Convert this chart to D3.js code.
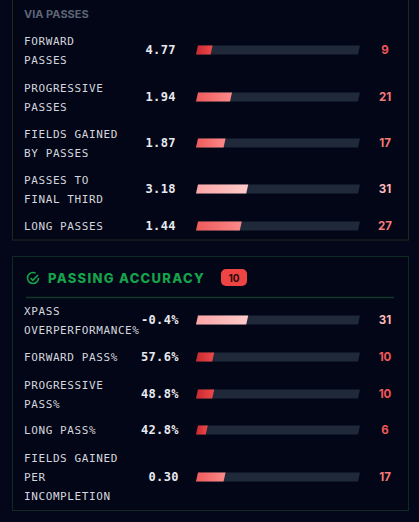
<!DOCTYPE html>
<html>
<head>
<meta charset="utf-8">
<script src="https://cdn.jsdelivr.net/npm/d3@7"></script>
<style>
  body { margin: 0; background: #04061a; }
  svg { display: block; }
</style>
</head>
<body>
<svg id="chart" width="419" height="522"></svg>
<script>
// via passes section
const passLabels = [["FORWARD", "PASSES"], ["PROGRESSIVE", "PASSES"], ["FIELDS GAINED", "BY PASSES"], ["PASSES TO", "FINAL THIRD"], ["LONG PASSES"]];
const passValues = ["4.77", "1.94", "1.87", "3.18", "1.44"];
const passRanks = [9, 21, 17, 31, 27];

// passing accuracy section
const accLabels = [["XPASS", "OVERPERFORMANCE%"], ["FORWARD PASS%"], ["PROGRESSIVE", "PASS%"], ["LONG PASS%"], ["FIELDS GAINED", "PER", "INCOMPLETION"]];
const accValues = ["-0.4%", "57.6%", "48.8%", "42.8%", "0.30"];
const accRanks = [31, 10, 10, 6, 17];
const accBadge = 10;

const svg = d3.select("#chart");
const mono = "'DejaVu Sans Mono', monospace";

const x = d3.scaleLinear().domain([0, 100]).range([196, 358]);

function rankColor(r) {
  if (r < 15) return ["#c8282e", "#ef4a4a"];
  if (r < 30) return ["#ef5a5a", "#fb8a8a"];
  return ["#fca5a5", "#fecaca"];
}

const defs = svg.append("defs");

function bar(g, r, cy, i, key) {
  const h = 9, y0 = cy - h / 2, sk = 2;
  const [c0, c1] = rankColor(r);
  const id = "gr" + key + i;
  const lg = defs.append("linearGradient").attr("id", id);
  lg.append("stop").attr("offset", "0%").attr("stop-color", c0);
  lg.append("stop").attr("offset", "100%").attr("stop-color", c1);
  const pts = (x0, x1) => `${x0 + sk},${y0} ${x1 + sk},${y0} ${x1},${y0 + h} ${x0},${y0 + h}`;
  g.append("polygon").attr("points", pts(x(0), x(100))).attr("fill", "#1f2939");
  g.append("polygon").attr("points", pts(x(0), x(r))).attr("fill", `url(#${id})`);
  g.append("text").attr("x", 385).attr("y", cy + 4).attr("text-anchor", "middle")
    .attr("font-family", "Inter, sans-serif").attr("font-weight", 700).attr("font-size", 11.5)
    .attr("fill", r >= 30 ? "#fbb8b8" : (r < 15 ? "#f05858" : "#f57a7a")).text(r);
}

function rows(labels, values, ranks, centers, key, valX) {
  const g = svg.append("g");
  labels.forEach((lines, i) => {
    const cy = centers[i];
    const top = cy - (lines.length - 1) * 19 / 2;
    lines.forEach((l, j) => {
      g.append("text").attr("x", 24).attr("y", top + j * 19 + 4)
        .attr("font-family", mono).attr("font-size", 11).attr("letter-spacing", 0.6)
        .attr("fill", "#d4d7de").text(l);
    });
    g.append("text").attr("x", valX).attr("y", cy + 4).attr("text-anchor", "end")
      .attr("font-family", mono).attr("font-weight", 700).attr("font-size", 12)
      .attr("letter-spacing", 0.4).attr("fill", "#e8eaef").text(values[i]);
    bar(g, ranks[i], cy, i, key);
  });
}

// panel 1
svg.append("rect").attr("x", 12.5).attr("y", -10).attr("width", 396).attr("height", 250)
  .attr("fill", "#030617").attr("stroke", "#24261a");
svg.append("text").attr("x", 24).attr("y", 18).attr("font-family", "Inter, sans-serif")
  .attr("font-weight", 700).attr("font-size", 11).attr("fill", "#5c6576").text("VIA PASSES");
rows(passLabels, passValues, passRanks, [50, 97, 143, 189, 226], "p", 176);

// panel 2
svg.append("rect").attr("x", 12.5).attr("y", 256.5).attr("width", 396).attr("height", 254)
  .attr("fill", "#030617").attr("stroke", "#0f2a22");
const hdr = svg.append("g");
hdr.append("circle").attr("cx", 33).attr("cy", 278).attr("r", 5.5).attr("fill", "none")
  .attr("stroke", "#16a34a").attr("stroke-width", 1.6).attr("stroke-dasharray", "28 7");
hdr.append("path").attr("d", "M30.5,278 L32.8,280.3 L38,275").attr("fill", "none")
  .attr("stroke", "#16a34a").attr("stroke-width", 1.6);
hdr.append("text").attr("x", 48).attr("y", 283).attr("font-family", "Inter, sans-serif")
  .attr("font-weight", 800).attr("font-size", 13).attr("letter-spacing", 1.3)
  .attr("fill", "#16a34a").text("PASSING ACCURACY");
hdr.append("rect").attr("x", 221).attr("y", 269).attr("width", 26).attr("height", 17).attr("rx", 5)
  .attr("fill", "#ef4444");
hdr.append("text").attr("x", 234).attr("y", 281.5).attr("text-anchor", "middle")
  .attr("font-family", "Inter, sans-serif").attr("font-weight", 700).attr("font-size", 10)
  .attr("fill", "#2a0a0a").text(accBadge);
hdr.append("line").attr("x1", 26).attr("x2", 394).attr("y1", 297.5).attr("y2", 297.5)
  .attr("stroke", "#123a2a").attr("stroke-width", 1.5);
rows(accLabels, accValues, accRanks, [320, 357, 394, 430, 477], "a", 179);
</script>
</body>
</html>
